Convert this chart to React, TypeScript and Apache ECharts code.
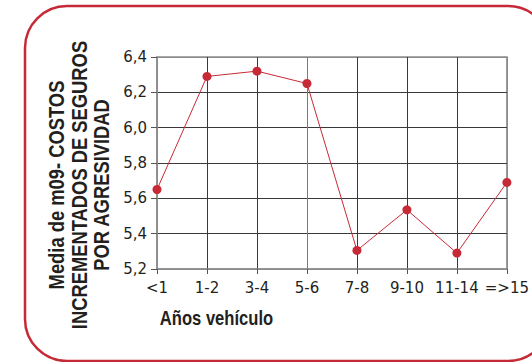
import React, { useEffect, useRef } from "react";
import * as echarts from "echarts";

const categories = ["<1", "1-2", "3-4", "5-6", "7-8", "9-10", "11-14", "=>15"];
const values = [5.65, 6.29, 6.32, 6.25, 5.305, 5.535, 5.29, 5.69];
const yTicks = [5.2, 5.4, 5.6, 5.8, 6.0, 6.2, 6.4];
const yNameLines = ["Media de m09- COSTOS", "INCREMENTADOS DE SEGUROS", "POR AGRESIVIDAD"];
const xName = "Años vehículo";

const RED = "#c62a36";
const TEXT = "#231f20";
const FONT = "'Liberation Sans', Arial, Helvetica, sans-serif";
const TICK_FONT = "'DejaVu Sans', 'Liberation Sans', sans-serif";

export default function App() {
  const ref = useRef<HTMLDivElement>(null);
  useEffect(() => {
    if (!ref.current) return;
    const chart = echarts.init(ref.current, null, { renderer: "svg" });
    const yMin = yTicks[0];
    const yMax = yTicks[yTicks.length - 1];
    chart.setOption({
      animation: false,
      backgroundColor: "#ffffff",
      grid: { left: 157, top: 57, right: 16, bottom: 93, show: true, borderColor: "#8c8c8c", borderWidth: 1.5 },
      xAxis: {
        type: "category",
        data: categories,
        boundaryGap: false,
        axisLine: { show: true, lineStyle: { color: "#8c8c8c", width: 1.5 } },
        axisTick: { show: true, length: 5, lineStyle: { color: "#555" } },
        axisLabel: { color: TEXT, fontSize: 15, fontFamily: TICK_FONT, margin: 11, interval: 0 },
        splitLine: {
          show: true,
          lineStyle: { color: ["#8c8c8c", "#3a3a3a", "#3a3a3a", "#7a7a7a", "#3a3a3a", "#3a3a3a", "#3a3a3a", "#8c8c8c"], width: 1 },
        },
      },
      yAxis: {
        type: "value",
        min: yMin,
        max: yMax,
        interval: 0.2,
        axisLine: { show: true, lineStyle: { color: "#8c8c8c", width: 1.5 } },
        axisTick: { show: true, length: 6, lineStyle: { color: "#555" } },
        axisLabel: {
          color: TEXT,
          fontSize: 15,
          fontFamily: TICK_FONT,
          margin: 10,
          formatter: (v: number) => v.toFixed(1).replace(".", ","),
        },
        splitLine: {
          show: true,
          lineStyle: { color: ["#8c8c8c", "#3a3a3a", "#3a3a3a", "#3a3a3a", "#3a3a3a", "#3a3a3a", "#8c8c8c"], width: 1 },
        },
      },
      series: [
        {
          type: "line",
          data: values,
          symbol: "circle",
          symbolSize: 9,
          lineStyle: { color: RED, width: 1 },
          itemStyle: { color: RED },
          z: 5,
        },
      ],
      graphic: [
        {
          type: "rect",
          shape: { x: 25, y: 6, width: 525, height: 355, r: 42 },
          style: { fill: "none", stroke: RED, lineWidth: 2.5 },
          silent: true,
        },
        {
          type: "text",
          x: 79,
          y: 185,
          rotation: Math.PI / 2,
          scaleX: 0.835,
          style: {
            text: yNameLines.join("\n"),
            fill: TEXT,
            font: `bold 22px ${FONT}`,
            lineHeight: 22.5,
            align: "center",
            verticalAlign: "middle",
          },
        },
        {
          type: "text",
          x: 216.5,
          y: 318,
          scaleX: 0.83,
          style: {
            text: xName,
            fill: TEXT,
            font: `bold 20px ${FONT}`,
            align: "center",
            verticalAlign: "middle",
          },
        },
      ],
    });
    return () => chart.dispose();
  }, []);
  return <div ref={ref} style={{ position: "fixed", left: 0, top: 0, width: 532, height: 362 }} />;
}
